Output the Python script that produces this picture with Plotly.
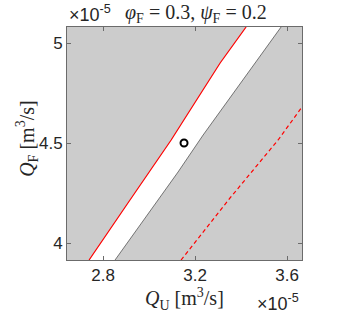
import plotly.graph_objects as go

# Data (m^3/s)
red_qu = [3.422e-5, 3.309e-5, 3.165e-5, 3.096e-5, 2.917e-5, 2.739e-5]
red_qf = [5.080e-5, 4.900e-5, 4.640e-5, 4.515e-5, 4.215e-5, 3.915e-5]
black_qu = [3.574e-5, 3.235e-5, 3.126e-5, 2.852e-5]
black_qf = [5.080e-5, 4.540e-5, 4.355e-5, 3.915e-5]
dash_qu = [3.139e-5, 3.352e-5, 3.561e-5, 3.665e-5]
dash_qf = [3.915e-5, 4.225e-5, 4.515e-5, 4.680e-5]
point_qu = [3.152e-5]
point_qf = [4.50e-5]
x_ticks = [2.8e-5, 3.2e-5, 3.6e-5]
x_tick_labels = ["2.8", "3.2", "3.6"]
y_ticks = [4.0e-5, 4.5e-5, 5.0e-5]
y_tick_labels = ["4", "4.5", "5"]
x_range = [2.643e-5, 3.665e-5]
y_range = [3.915e-5, 5.08e-5]

fig = go.Figure()

# white feasible band
fig.add_trace(go.Scatter(
    x=red_qu + black_qu[::-1], y=red_qf + black_qf[::-1],
    fill="toself", fillcolor="white", mode="none", showlegend=False,
    hoverinfo="skip"))
fig.add_trace(go.Scatter(x=black_qu, y=black_qf, mode="lines",
                         line=dict(color="#555555", width=0.8), showlegend=False))
fig.add_trace(go.Scatter(x=red_qu, y=red_qf, mode="lines",
                         line=dict(color="#ff0000", width=1.2), showlegend=False))
fig.add_trace(go.Scatter(x=dash_qu, y=dash_qf, mode="lines",
                         line=dict(color="#ff0000", width=1.2, dash="4px,3px"),
                         showlegend=False))
fig.add_trace(go.Scatter(x=point_qu, y=point_qf, mode="markers",
                         marker=dict(symbol="circle-open", size=7,
                                     line=dict(color="black", width=2), color="black"),
                         showlegend=False))

axis_common = dict(
    showgrid=False, zeroline=False, showline=True, linecolor="#6b6b6b",
    linewidth=1, mirror="allticks", ticks="inside", ticklen=4,
    tickcolor="#6b6b6b", tickfont=dict(family="Liberation Sans", size=17, color="#262626"))

fig.update_xaxes(range=x_range, tickvals=x_ticks, ticktext=x_tick_labels, **axis_common)
fig.update_yaxes(range=y_range, tickvals=y_ticks, ticktext=y_tick_labels, **axis_common)

serif = dict(family="Liberation Serif", size=20, color="#262626")
sans = dict(family="Liberation Sans", size=18, color="#262626")

fig.update_layout(
    width=357, height=314,
    margin=dict(l=67, r=55, t=27, b=54),
    plot_bgcolor="#cccccc", paper_bgcolor="white",
    annotations=[
        dict(text="<i>φ</i><sub>F</sub> = 0.3, <i>ψ</i><sub>F</sub> = 0.2",
             xref="paper", yref="paper", x=0.549, y=1.0, yshift=14,
             xanchor="center", yanchor="middle", showarrow=False, font=serif),
        dict(text="×10<sup>-5</sup>", xref="paper", yref="paper", x=0.0, y=1.0,
             yshift=14, xanchor="left", yanchor="middle", showarrow=False, font=sans),
        dict(text="<i>Q</i><sub>U</sub> [m<sup>3</sup>/s]", xref="paper", yref="paper",
             x=0.502, y=0.0, yshift=-39, xanchor="center", yanchor="middle",
             showarrow=False, font=serif),
        dict(text="×10<sup>-5</sup>", xref="paper", yref="paper", x=0.80, y=0.0,
             yshift=-42, xanchor="left", yanchor="middle", showarrow=False, font=sans),
        dict(text="<i>Q</i><sub>F</sub> [m<sup>3</sup>/s]", xref="paper", yref="paper",
             x=0.0, y=0.52, xshift=-40, xanchor="center", yanchor="middle",
             textangle=-90, showarrow=False, font=serif),
    ],
)

fig.write_html("out.html", config={"displayModeBar": False},
               post_script="document.body.style.margin='0';")
